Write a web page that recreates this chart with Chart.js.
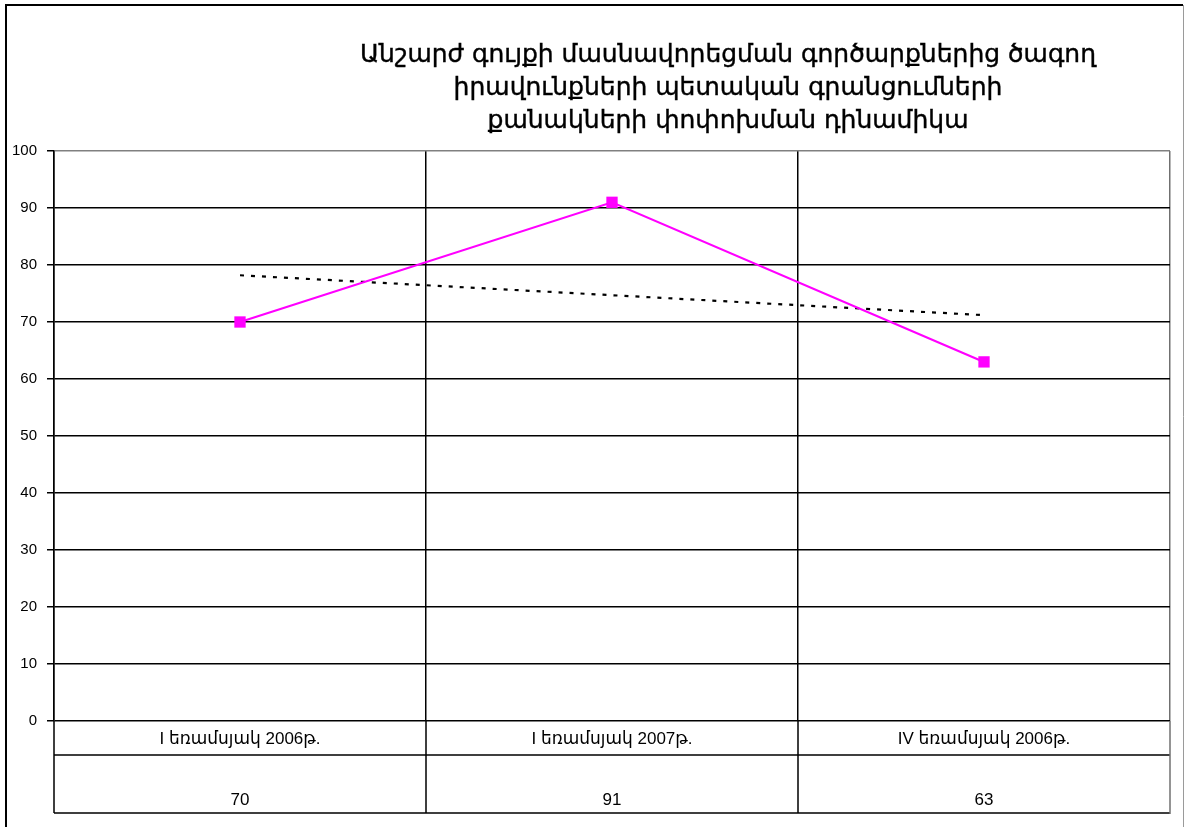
<!DOCTYPE html>
<html>
<head>
<meta charset="utf-8">
<script src="https://cdn.jsdelivr.net/npm/chart.js@4/dist/chart.umd.min.js"></script>
<style>
  html, body { margin: 0; padding: 0; background: #fff; }
  #wrap { width: 1186px; height: 827px; position: relative; }
</style>
</head>
<body>
<div id="wrap"><canvas id="chart"></canvas></div>
<script>
const titleLines = [
  'Անշարժ գույքի մասնավորեցման գործարքներից ծագող',
  'իրավունքների պետական գրանցումների',
  'քանակների փոփոխման դինամիկա'
];
const quarters = ['I եռամսյակ 2006թ.', 'I եռամսյակ 2007թ.', 'IV եռամսյակ 2006թ.'];
const counts = [70, 91, 63];
const trend = [78.2, 74.7, 71.2];
const yTicks = [0, 10, 20, 30, 40, 50, 60, 70, 80, 90, 100];

const baseFont = 'Arial, "Liberation Sans", "DejaVu Sans", sans-serif';
const gridWidth = 1.5;

// outer frame of the chart object
const framePlugin = {
  id: 'frame',
  beforeDraw(chart) {
    const ctx = chart.ctx;
    ctx.save();
    ctx.strokeStyle = '#000';
    ctx.lineWidth = 2;
    ctx.beginPath();
    ctx.moveTo(6, 830);
    ctx.lineTo(6, 5);
    ctx.lineTo(1183, 5);
    ctx.stroke();
    ctx.strokeStyle = '#9a9a9a';
    ctx.lineWidth = 1;
    ctx.beginPath();
    ctx.moveTo(1183.5, 5);
    ctx.lineTo(1183.5, 830);
    ctx.stroke();
    ctx.restore();
  }
};

// three-line title, centred a bit right of the page middle
const titlePlugin = {
  id: 'titleLines',
  afterDraw(chart) {
    const ctx = chart.ctx;
    ctx.save();
    ctx.fillStyle = '#000';
    ctx.strokeStyle = '#000';
    ctx.lineWidth = 0.4;
    ctx.font = '25px "DejaVu Sans", sans-serif';
    ctx.textAlign = 'center';
    ctx.textBaseline = 'middle';
    titleLines.forEach((line, i) => {
      ctx.fillText(line, 728, 55 + i * 33);
      ctx.strokeText(line, 728, 55 + i * 33);
    });
    ctx.restore();
  }
};

// data table under the plot: category row and value row
const tablePlugin = {
  id: 'dataTable',
  afterDraw(chart) {
    const ctx = chart.ctx;
    const area = chart.chartArea;
    const xs = chart.scales.x;
    const rowTop = area.bottom;
    const rowMid = rowTop + 34;
    const rowEnd = rowTop + 92;
    const cell = (area.right - area.left) / quarters.length;

    ctx.save();
    ctx.strokeStyle = '#000';
    ctx.lineWidth = gridWidth;
    ctx.beginPath();
    [rowMid, rowEnd].forEach(y => {
      ctx.moveTo(area.left, y);
      ctx.lineTo(area.right, y);
    });
    for (let i = 0; i < quarters.length; i++) {
      const x = area.left + i * cell;
      ctx.moveTo(x, rowTop);
      ctx.lineTo(x, rowEnd);
    }
    ctx.stroke();
    ctx.strokeStyle = '#707070';
    ctx.beginPath();
    ctx.moveTo(area.right, rowTop);
    ctx.lineTo(area.right, rowEnd + 1);
    ctx.stroke();

    ctx.fillStyle = '#000';
    ctx.textAlign = 'center';
    ctx.textBaseline = 'middle';
    quarters.forEach((q, i) => {
      const x = xs.getPixelForValue(i);
      ctx.font = '17px ' + baseFont;
      ctx.fillText(q, x, rowTop + 18);
      ctx.font = '17px ' + baseFont;
      ctx.fillText(String(counts[i]), x, rowEnd - 13);
    });
    ctx.restore();
  }
};

new Chart(document.getElementById('chart'), {
  type: 'line',
  data: {
    labels: quarters,
    datasets: [
      {
        label: 'count',
        data: counts,
        borderColor: '#ff00ff',
        backgroundColor: '#ff00ff',
        borderWidth: 2.2,
        pointStyle: 'rect',
        pointRadius: 8,
        pointBorderWidth: 0,
        tension: 0,
      },
      {
        label: 'trend',
        data: trend,
        borderColor: '#000',
        borderWidth: 2.2,
        borderDash: [4, 7],
        pointRadius: 0,
        tension: 0,
      }
    ]
  },
  options: {
    responsive: true,
    maintainAspectRatio: false,
    animation: false,
    layout: { padding: { top: 151, left: 0, right: 16, bottom: 14 } },
    plugins: {
      legend: { display: false },
      tooltip: { enabled: false },
      title: { display: false },
    },
    scales: {
      x: {
        type: 'category',
        offset: true,
        afterFit(scale) { scale.height = 92; },
        grid: {
          offset: true,
          drawTicks: false,
          color: ctx => (ctx.type === 'tick' ? '#000' : '#707070'),
          lineWidth: gridWidth,
        },
        border: { display: false },
        ticks: { display: false },
      },
      y: {
        min: 0,
        max: 100,
        afterFit(scale) { scale.width = 54; },
        afterBuildTicks(scale) { scale.ticks = yTicks.map(v => ({ value: v })); },
        grid: {
          color: ctx => (ctx.tick && ctx.tick.value === 100 ? '#808080' : '#000'),
          tickColor: '#000',
          tickLength: 7,
          lineWidth: gridWidth,
        },
        border: { display: true, color: '#000', width: gridWidth },
        ticks: {
          color: '#000',
          padding: 10,
          font: { family: baseFont, size: 15 },
        },
      }
    }
  },
  plugins: [framePlugin, titlePlugin, tablePlugin]
});
</script>
</body>
</html>
